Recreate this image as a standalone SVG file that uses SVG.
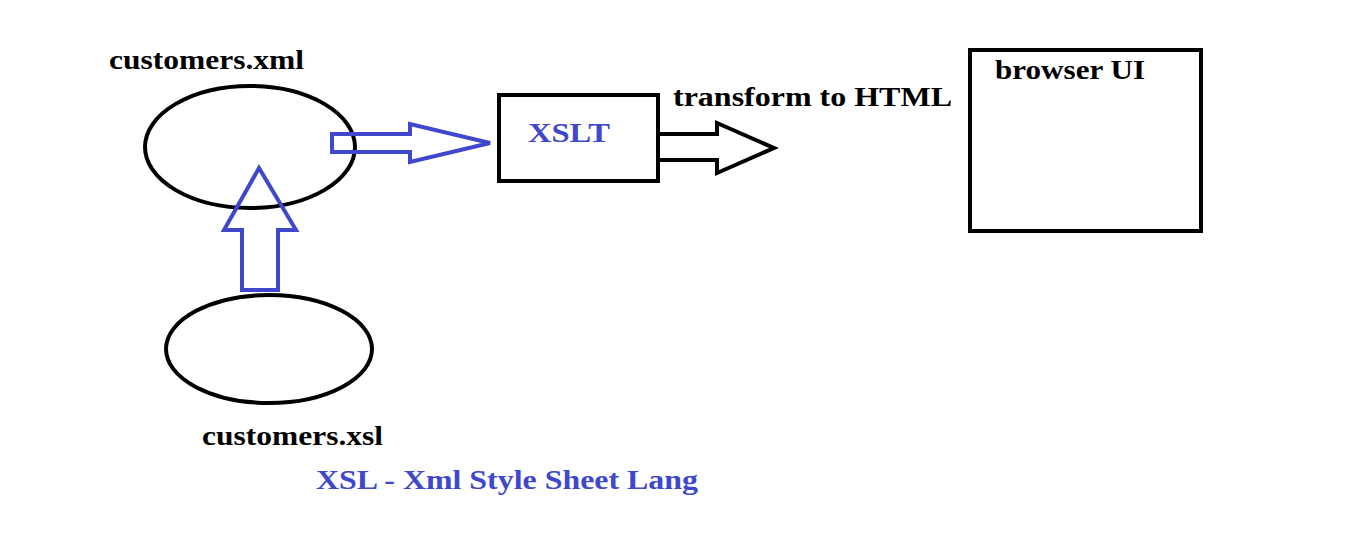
<svg xmlns="http://www.w3.org/2000/svg" width="1349" height="544" viewBox="0 0 1349 544">
<style>
.k{fill:none;stroke:#000;stroke-width:4}
.b{fill:none;stroke:#3f48cc;stroke-width:4;stroke-linejoin:miter}
.t{font-family:"Liberation Serif",serif;font-weight:bold;font-size:28px;fill:#000}
.tb{fill:#3f48cc}
</style>
<rect width="1349" height="544" fill="#fff"/>
<g id="customers-xml">
<ellipse class="k" cx="250" cy="147" rx="105" ry="61"/>
<text class="t" x="109" y="69" textLength="195" lengthAdjust="spacingAndGlyphs">customers.xml</text>
</g>
<g id="customers-xsl">
<ellipse class="k" cx="269" cy="349" rx="103" ry="54"/>
<text class="t" x="202" y="445" textLength="181" lengthAdjust="spacingAndGlyphs">customers.xsl</text>
</g>
<g id="xslt">
<rect class="k" x="499" y="95" width="159" height="86"/>
<text class="t tb" x="528" y="142" textLength="82" lengthAdjust="spacingAndGlyphs">XSLT</text>
</g>
<g id="browser">
<rect class="k" x="970" y="50" width="231" height="181"/>
<text class="t" x="995" y="79" textLength="150" lengthAdjust="spacingAndGlyphs">browser UI</text>
</g>
<g id="connectors">
<polygon class="b" points="332,134 410,134 410,124 490,143 410,162 410,152 332,152"/>
<polygon class="b" points="242,290 278,290 278,230 296,230 259,168 224,230 242,230"/>
<polygon class="k" points="658,134 717,134 717,123 774,148 717,173 717,160 658,160"/>
<text class="t" x="673" y="106" textLength="279" lengthAdjust="spacingAndGlyphs">transform to HTML</text>
</g>
<text class="t tb" x="316" y="489" textLength="382" lengthAdjust="spacingAndGlyphs">XSL - Xml Style Sheet Lang</text>
</svg>
